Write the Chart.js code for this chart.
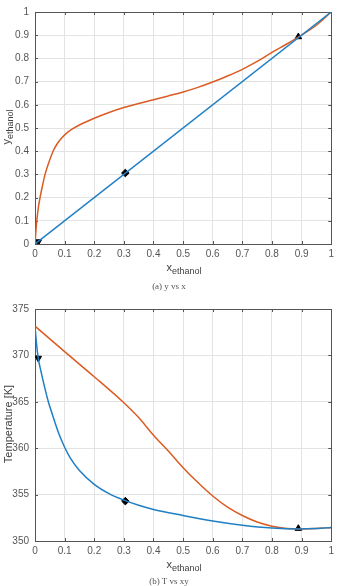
<!DOCTYPE html>
<html>
<head>
<meta charset="utf-8">
<script src="https://cdn.jsdelivr.net/npm/chart.js@4/dist/chart.umd.min.js"></script>
<style>
  body { margin: 0; background: #fff; }
  #wrap { position: relative; width: 338px; height: 586px; font-family: "Liberation Sans", Arial, sans-serif; color: #404040; }
  canvas { position: absolute; left: 0; }
  .xlab { position: absolute; font-size: 11px; white-space: nowrap; transform: translateX(-50%); line-height: 1; }
  .xlab sub, .ylab sub { font-size: 9px; }
  .ylab { position: absolute; font-size: 11px; white-space: nowrap; transform: translate(-50%, -50%) rotate(-90deg); line-height: 1; }
  .cap { position: absolute; left: 0; width: 338px; text-align: center; font-family: "Liberation Serif", serif; font-size: 9px; color: #555; line-height: 1; }
</style>
</head>
<body>
<div id="wrap">
  <canvas id="chartA" width="338" height="262" style="top:0px"></canvas>
  <canvas id="chartB" width="338" height="262" style="top:297px"></canvas>

  <div class="ylab" style="left:8px; top:127px;">y<sub>ethanol</sub></div>
  <div class="xlab" style="left:184px; top:262px;">x<sub>ethanol</sub></div>
  <div class="cap" style="top:282px;">(a) y vs x</div>

  <div class="ylab" style="left:8px; top:424px;">Temperature [K]</div>
  <div class="xlab" style="left:184px; top:559px;">x<sub>ethanol</sub></div>
  <div class="cap" style="top:577px;">(b) T vs xy</div>
</div>

<script>
// tick values
const xTicks = [0, 0.1, 0.2, 0.3, 0.4, 0.5, 0.6, 0.7, 0.8, 0.9, 1];
const yTicksA = [0, 0.1, 0.2, 0.3, 0.4, 0.5, 0.6, 0.7, 0.8, 0.9, 1];
const tTicksB = [350, 355, 360, 365, 370, 375];

// (a) y vs x : diagonal and equilibrium curve
const diagX = [0, 1];
const diagY = [0, 1];
const eqX = [0, 0.003, 0.006, 0.011, 0.017, 0.025, 0.034, 0.045, 0.061, 0.075, 0.09, 0.105, 0.125, 0.15, 0.2, 0.25, 0.3, 0.35, 0.4, 0.45, 0.5, 0.55, 0.6, 0.65, 0.7, 0.75, 0.8, 0.85, 0.89, 0.95, 1];
const eqY = [0, 0.055, 0.1, 0.155, 0.2, 0.25, 0.3, 0.345, 0.4, 0.432, 0.457, 0.476, 0.495, 0.513, 0.542, 0.567, 0.588, 0.606, 0.622, 0.638, 0.655, 0.675, 0.698, 0.724, 0.753, 0.787, 0.826, 0.862, 0.893, 0.943, 1];

// (b) T vs xy : bubble and dew curves
const bubX = [0, 0.005, 0.011, 0.02, 0.03, 0.045, 0.06, 0.08, 0.1, 0.12, 0.15, 0.2, 0.25, 0.3, 0.35, 0.4, 0.5, 0.6, 0.7, 0.8, 0.89, 0.95, 1];
const bubT = [373.15, 371.3, 369.7, 368.3, 366.9, 365.0, 363.5, 361.6, 360.1, 358.9, 357.6, 356.1, 355.1, 354.4, 353.85, 353.4, 352.75, 352.15, 351.7, 351.4, 351.3, 351.35, 351.45];
const dewX = [0, 0.1, 0.2, 0.3, 0.35, 0.4, 0.45, 0.5, 0.55, 0.6, 0.65, 0.7, 0.75, 0.8, 0.85, 0.89, 0.95, 1];
const dewT = [373.15, 370.4, 367.7, 364.9, 363.3, 361.4, 359.7, 357.9, 356.3, 354.85, 353.65, 352.75, 352.05, 351.6, 351.35, 351.3, 351.35, 351.45];

// marked points
const markX = [0.011, 0.305, 0.889];
const markYa = [0.01, 0.306, 0.893];
const markTb = [369.7, 354.3, 351.35];
const markStyle = ['triangle', 'rectRot', 'triangle'];
const markRot = [180, 0, 0];

const BLUE = '#1f7fc4';
const ORANGE = '#db5c22';
const AXIS = '#555555';
const GRID = '#e3e3e3';

function pts(xs, ys) {
    return xs.map((x, i) => ({ x: x, y: ys[i] }));
}

// draws the matlab-like box with inward ticks
const boxPlugin = {
    id: 'box',
    beforeDatasetsDraw(chart) {
        const { ctx, chartArea: a, scales } = chart;
        ctx.save();
        ctx.strokeStyle = AXIS;
        ctx.lineWidth = 1;
        ctx.strokeRect(Math.round(a.left) + 0.5, Math.round(a.top) + 0.5, Math.round(a.right - a.left), Math.round(a.bottom - a.top));
        ctx.beginPath();
        scales.x.ticks.forEach(t => {
            const px = Math.round(scales.x.getPixelForValue(t.value)) + 0.5;
            ctx.moveTo(px, a.bottom); ctx.lineTo(px, a.bottom - 3);
            ctx.moveTo(px, a.top); ctx.lineTo(px, a.top + 3);
        });
        scales.y.ticks.forEach(t => {
            const py = Math.round(scales.y.getPixelForValue(t.value)) + 0.5;
            ctx.moveTo(a.left, py); ctx.lineTo(a.left + 3, py);
            ctx.moveTo(a.right, py); ctx.lineTo(a.right - 3, py);
        });
        ctx.stroke();
        ctx.restore();
    }
};

function makeChart(id, lines, markY, yMin, yMax, yTicks) {
    const datasets = lines.map(l => ({
        data: pts(l.x, l.y),
        borderColor: l.color,
        borderWidth: 1.5,
        pointRadius: 0,
        fill: false,
        cubicInterpolationMode: 'monotone'
    }));
    markX.forEach((x, i) => {
        datasets.push({
            data: [{ x: x, y: markY[i] }],
            showLine: false,
            pointStyle: markStyle[i],
            rotation: markRot[i],
            pointRadius: 3.8,
            backgroundColor: '#000',
            borderColor: '#000',
            borderWidth: 1
        });
    });

    const tickFont = { family: '"Liberation Sans", Arial, sans-serif', size: 10 };

    return new Chart(document.getElementById(id), {
        type: 'line',
        data: { datasets: datasets },
        plugins: [boxPlugin],
        options: {
            responsive: false,
            animation: false,
            layout: { padding: { top: 10, right: 5, left: 0, bottom: 0 } },
            plugins: { legend: { display: false }, tooltip: { enabled: false } },
            scales: {
                x: {
                    type: 'linear',
                    min: 0,
                    max: 1,
                    afterBuildTicks: s => { s.ticks = xTicks.map(v => ({ value: v })); },
                    afterFit: s => { s.height = 18; },
                    grid: { color: GRID, drawTicks: false },
                    border: { display: false },
                    ticks: { color: AXIS, font: tickFont, padding: 4, maxRotation: 0, callback: v => String(v) }
                },
                y: {
                    type: 'linear',
                    min: yMin,
                    max: yMax,
                    afterBuildTicks: s => { s.ticks = yTicks.map(v => ({ value: v })); },
                    afterFit: s => { s.width = 35; },
                    grid: { color: GRID, drawTicks: false },
                    border: { display: false },
                    ticks: { color: AXIS, font: tickFont, padding: 6, callback: v => String(v) }
                }
            }
        }
    });
}

makeChart('chartA', [
    { x: diagX, y: diagY, color: BLUE },
    { x: eqX, y: eqY, color: ORANGE }
], markYa, 0, 1, yTicksA);

makeChart('chartB', [
    { x: bubX, y: bubT, color: BLUE },
    { x: dewX, y: dewT, color: ORANGE }
], markTb, 350, 375, tTicksB);
</script>
</body>
</html>
